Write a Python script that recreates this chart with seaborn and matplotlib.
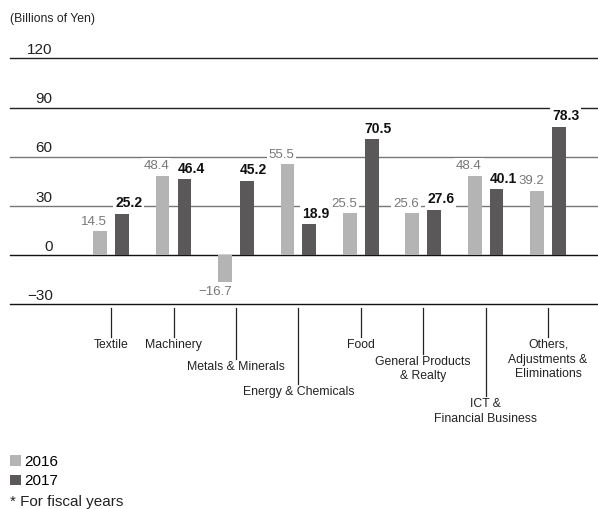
import pandas as pd
import seaborn as sns
import matplotlib.pyplot as plt
from matplotlib.patches import Patch

# Data
categories = ['Textile', 'Machinery', 'Metals & Minerals', 'Energy & Chemicals', 'Food',
              'General Products\n& Realty', 'ICT &\nFinancial Business',
              'Others,\nAdjustments &\nEliminations']
values_2016 = [14.5, 48.4, -16.7, 55.5, 25.5, 25.6, 48.4, 39.2]
values_2017 = [25.2, 46.4, 45.2, 18.9, 70.5, 27.6, 40.1, 78.3]
years = ['2016', '2017']
y_ticks = [120, 90, 60, 30, 0, -30]

df = pd.DataFrame({
    'Segment': categories * 2,
    'Year': [years[0]] * len(categories) + [years[1]] * len(categories),
    'Profit': values_2016 + values_2017,
})

# styles
colors = {'2016': '#b4b4b4', '2017': '#5a5858'}
grid_colors = {120: '#222222', 90: '#222222', 60: '#777777', 30: '#777777', 0: '#111111', -30: '#111111'}
tick_px = [29, 29, 51, 76, 29, 46, 88, 29]  # length of category tick lines in pixels

plt.rcParams['font.family'] = ['Liberation Sans', 'DejaVu Sans']

W, H, DPI = 598, 509, 100
fig = plt.figure(figsize=(W / DPI, H / DPI), dpi=DPI)
ax = fig.add_axes([10 / W, 1 - 304.3 / H, 588 / W, (304.3 - 58.3) / H])

sns.barplot(data=df, x='Segment', y='Profit', hue='Year', order=categories,
            hue_order=years, palette=colors, saturation=1, width=0.7, gap=0.37,
            legend=False, ax=ax, zorder=3)

ax.set_xlim(-1.62, 7.80)
ax.set_ylim(-30, 120)
for s in ax.spines.values():
    s.set_visible(False)
ax.set_xticks([])
ax.set_yticks([])
ax.set_xlabel('')
ax.set_ylabel('')

# horizontal lines + y labels
for v in y_ticks:
    ax.axhline(v, color=grid_colors[v], lw=1.0, zorder=1, clip_on=False)
    lab = str(v).replace('-', '\u2212')
    ax.annotate(lab, xy=(42 / 588, v), xycoords=ax.get_yaxis_transform(),
                xytext=(0.5, 1), textcoords='offset points',
                ha='right', va='bottom', fontsize=11, color='#222222')

# value labels
for cont, yr in zip(ax.containers, years):
    for bar in cont:
        h = bar.get_height()
        if yr == '2016':
            x = bar.get_x() + bar.get_width()
            ha, kw = 'right', dict(fontsize=9.5, color='#777777')
        else:
            x = bar.get_x()
            ha, kw = 'left', dict(fontsize=10, color='#111111', fontweight='bold')
        lab = f'{h:.1f}'.replace('-', '\u2212')
        if h >= 0:
            ax.annotate(lab, xy=(x, h), xytext=(0, 2.5), textcoords='offset points',
                        ha=ha, va='bottom', zorder=4,
                        bbox=dict(boxstyle='square,pad=0.15', fc='white', ec='none'), **kw)
        else:
            ax.annotate(lab, xy=(x, h), xytext=(0, -2.5), textcoords='offset points',
                        ha=ha, va='top', zorder=4,
                        bbox=dict(boxstyle='square,pad=0.15', fc='white', ec='none'), **kw)

# category ticks and labels below the axis
unit = 150 / (246.0)  # data units per pixel
for i, (cat, t) in enumerate(zip(categories, tick_px)):
    y0 = -30 - 4 * unit
    y1 = -30 - (4 + t) * unit
    ax.plot([i, i], [y0, y1], color='#222222', lw=0.9, clip_on=False)
    ax.text(i, y1 - 1.5 * unit, cat, ha='center', va='top', fontsize=8.8,
            color='#222222', linespacing=1.3, multialignment='center')

# legend and notes
handles = [Patch(facecolor=colors[y], edgecolor='none', label=y) for y in years]
fig.legend(handles=handles, loc='upper left', bbox_to_anchor=(10 / W, 1 - 455 / H),
           frameon=False, fontsize=11, handlelength=0.7, handleheight=0.7,
           handletextpad=0.25, labelspacing=0.35, borderpad=0, borderaxespad=0)
fig.text(10 / W, 1 - 502 / H, '* For fiscal years', ha='left', va='center', fontsize=11,
         color='#222222')
fig.text(10 / W, 1 - 19 / H, '(Billions of Yen)', ha='left', va='center', fontsize=8.8,
         color='#222222')

fig.savefig('out.png', dpi=DPI)
